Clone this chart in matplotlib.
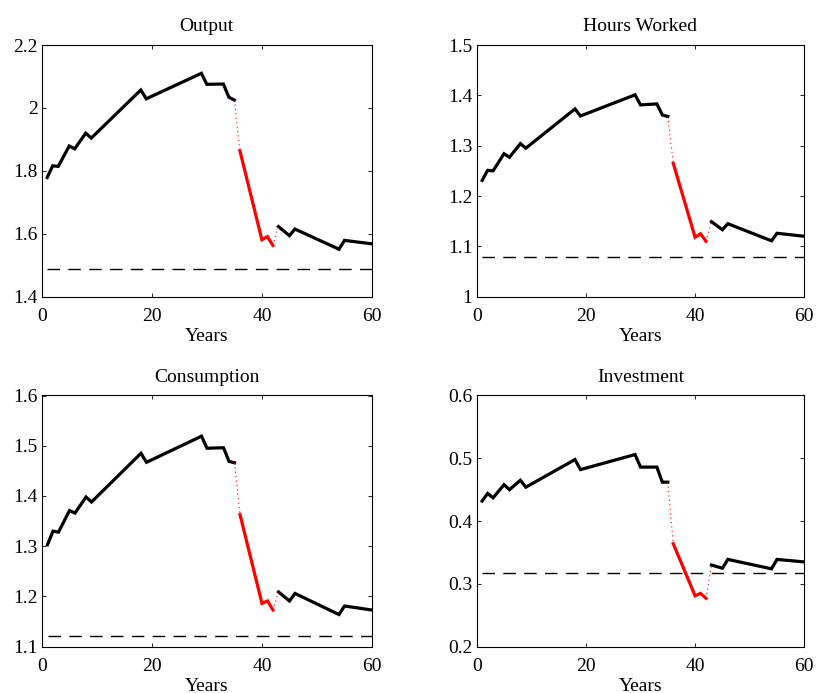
import numpy as np
import matplotlib
matplotlib.use('Agg')
import matplotlib.pyplot as plt
from matplotlib.ticker import FormatStrFormatter

plt.rcParams['font.family'] = ['Liberation Serif', 'DejaVu Serif']
plt.rcParams['font.size'] = 14

# years at which the paths change direction
years = [1, 2, 3, 5, 6, 8, 9, 18, 19, 29, 30, 33, 34, 35,
         36, 40, 41, 42,
         43, 45, 46, 54, 55, 60]

output = [1.779, 1.816, 1.814, 1.879, 1.870, 1.920, 1.904, 2.057, 2.029, 2.110,
          2.075, 2.076, 2.034, 2.025,
          1.864, 1.581, 1.591, 1.563,
          1.623, 1.594, 1.615, 1.551, 1.579, 1.568]
hours = [1.231, 1.251, 1.250, 1.284, 1.277, 1.304, 1.295, 1.373, 1.359, 1.401,
         1.381, 1.383, 1.361, 1.358,
         1.265, 1.118, 1.125, 1.110,
         1.149, 1.133, 1.145, 1.111, 1.126, 1.120]
consumption = [1.303, 1.330, 1.328, 1.371, 1.366, 1.398, 1.388, 1.485, 1.467, 1.519,
               1.495, 1.496, 1.469, 1.466,
               1.363, 1.186, 1.191, 1.173,
               1.209, 1.191, 1.206, 1.164, 1.181, 1.173]
investment = [0.432, 0.444, 0.437, 0.458, 0.450, 0.465, 0.454, 0.498, 0.482, 0.506,
              0.486, 0.486, 0.462, 0.462,
              0.364, 0.281, 0.285, 0.277,
              0.330, 0.325, 0.339, 0.324, 0.339, 0.335]

steady = [1.489, 1.078, 1.121, 0.317]
titles = ['Output', 'Hours Worked', 'Consumption', 'Investment']
ylims = [(1.4, 2.2), (1.0, 1.5), (1.1, 1.6), (0.2, 0.6)]
yticks = [np.arange(1.4, 2.21, 0.2), np.arange(1.0, 1.51, 0.1),
          np.arange(1.1, 1.61, 0.1), np.arange(0.2, 0.61, 0.1)]
series = [output, hours, consumption, investment]

# axes boxes in figure pixels (left, top, right, bottom)
W, H = 817, 693
boxes = [(41.7, 45, 372, 296.7), (476.7, 45, 804.3, 296.7),
         (42.0, 395.5, 372, 646.7), (476.7, 395.5, 804.3, 646.7)]

fig = plt.figure(figsize=(W / 100, H / 100), dpi=100)
fig.set_facecolor('white')

yrs = np.array(years)
pre = yrs <= 35
crisis = (yrs >= 36) & (yrs <= 42)
post = yrs >= 43

for i in range(4):
    l, t, r, b = boxes[i]
    ax = fig.add_axes([l / W, 1 - b / H, (r - l) / W, (b - t) / H])
    v = np.array(series[i])

    ax.plot([1, 60], [steady[i], steady[i]], color='black', lw=1.0,
            dashes=(9, 6))
    ax.plot(yrs[pre], v[pre], color='black', lw=2.3, solid_joinstyle='miter')
    ax.plot(yrs[post], v[post], color='black', lw=2.3, solid_joinstyle='miter')
    ax.plot(yrs[crisis], v[crisis], color='red', lw=2.3, solid_joinstyle='miter')
    # dotted links into and out of the crisis period
    i0 = np.where(pre)[0][-1]
    i1 = np.where(crisis)[0][-1]
    ax.plot(yrs[i0:i0 + 2], v[i0:i0 + 2], color='red', lw=0.8, dashes=(1, 3))
    ax.plot(yrs[i1:i1 + 2], v[i1:i1 + 2], color='red', lw=0.8, dashes=(1, 3))

    ax.set_xlim(0, 60)
    ax.set_ylim(*ylims[i])
    ax.set_xticks([0, 20, 40, 60])
    ax.set_yticks(yticks[i])
    ax.yaxis.set_major_formatter(FormatStrFormatter('%g'))
    ax.tick_params(direction='in', top=True, right=True, length=3, width=0.6,
                   pad=3)
    ax.tick_params(axis='x', pad=8)
    for s in ax.spines.values():
        s.set_linewidth(0.8)
    ax.set_title(titles[i], fontsize=14, pad=10)
    ax.set_xlabel('Years', labelpad=2)

fig.savefig('out.png', dpi=100, facecolor='white')
